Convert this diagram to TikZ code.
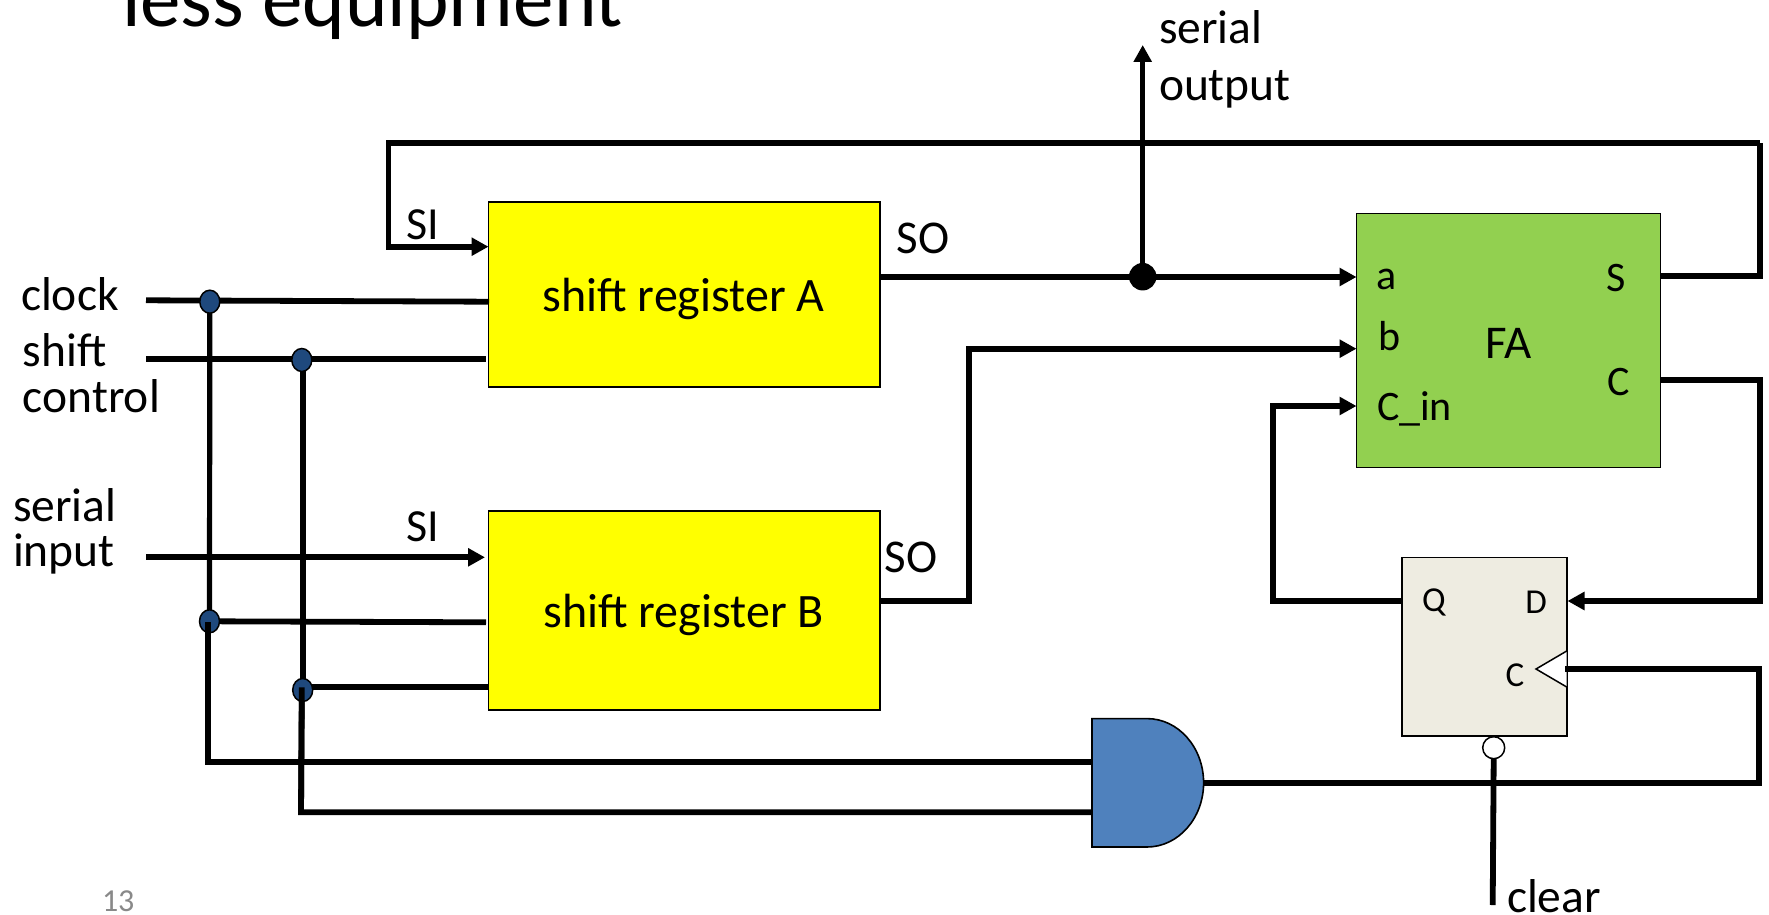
\documentclass[tikz,border=0pt]{standalone}
\usepackage{fontspec}
\setmainfont{Carlito}
\usetikzlibrary{arrows.meta,shapes.geometric}
\definecolor{regyellow}{HTML}{FFFF00}
\definecolor{fagreen}{HTML}{92D050}
\definecolor{fftan}{HTML}{EEECE1}
\definecolor{gateblue}{HTML}{4F81BD}
\definecolor{dotblue}{HTML}{1F497D}
\definecolor{pagegray}{HTML}{898989}
\newcommand{\fs}[1]{\fontsize{#1}{#1}\selectfont}
\tikzset{
  x=1pt,y=-1pt,
  box/.style={draw=black,line width=1.6pt,rectangle,inner sep=0pt,outer sep=0pt,anchor=north west},
  wire/.style={line width=5.8pt,draw=black,line join=miter},
  arrowwire/.style={wire,-{Triangle[length=17pt,width=17.5pt]}},
  joint/.style={ellipse,draw=black,line width=1.5pt,fill=dotblue,minimum width=20pt,minimum height=23pt,inner sep=0pt,outer sep=0pt},
  bigjoint/.style={ellipse,fill=black,minimum width=27.5pt,minimum height=27.5pt,inner sep=0pt,outer sep=0pt},
  lab/.style={inner sep=0pt,outer sep=0pt,anchor=base west,font=\fs{47.5}},
  ctr/.style={inner sep=0pt,outer sep=0pt,anchor=center},
}
\begin{document}
\begin{tikzpicture}
\useasboundingbox (0,0) rectangle (1769,915);
% title fragment and page number
\node[lab,font=\fs{81}] (title) at (122,26.7) {less equipment};
\node[lab,font=\fs{32},text=pagegray] (pageno) at (102,911.5) {13};

% blocks
\node[box,fill=regyellow,minimum width=391.5pt,minimum height=185pt] (sra) at (488.5,202) {};
\node[box,fill=regyellow,minimum width=391.5pt,minimum height=198.7pt] (srb) at (488.5,511) {};
\node[box,fill=fagreen,minimum width=304.1pt,minimum height=254pt] (fa) at (1356.5,213.3) {};
\node[box,fill=fftan,minimum width=165pt,minimum height=178.4pt] (ff) at (1401.7,557.3) {};

% free ends and bends
\coordinate (clkin) at (146,300.3);
\coordinate (clkA) at (489,301.7);
\coordinate (shin) at (146,359.3);
\coordinate (shA) at (486,359.3);
\coordinate (serin) at (146,557.3);
\coordinate (sitipB) at (485,557.3);
\coordinate (clkB) at (486,622.3);
\coordinate (shB) at (488.5,687.3);
\coordinate (sitipA) at (488.5,246.7);
\coordinate (topL) at (388.4,142.7);
\coordinate (topR) at (1760,142.7);
\coordinate (siL) at (388.4,246.7);
\coordinate (soA) at (880,277);
\coordinate (aTip) at (1356.5,277);
\coordinate (outTip) at (1142.7,45);
\coordinate (sOut) at (1660.6,276.3);
\coordinate (sR) at (1760,276.3);
\coordinate (soB) at (880,601);
\coordinate (bendB) at (969,601);
\coordinate (bendB2) at (969,348.7);
\coordinate (bTip) at (1356.5,348.7);
\coordinate (cinTip) at (1356.5,406);
\coordinate (cinL) at (1273,406);
\coordinate (qOut) at (1401.7,601);
\coordinate (qL) at (1273,601);
\coordinate (cOut) at (1660.6,380.3);
\coordinate (cR) at (1760,380.3);
\coordinate (dR) at (1760,601);
\coordinate (dTip) at (1567.5,601);
\coordinate (ckIn) at (1565,669);
\coordinate (ckR) at (1759,669);
\coordinate (andR) at (1759,783.3);
\coordinate (in1) at (1092,762.3);
\coordinate (in2) at (1092,812.3);
\coordinate (c1) at (208,762.3);
\coordinate (c2) at (301,812.3);
\coordinate (andOut) at (1203.6,783.3);
\coordinate (clrEnd) at (1492.7,905);
\coordinate (j1) at (209.8,301.7);
\coordinate (j2) at (301.8,360);
\coordinate (j3) at (209.5,621.3);
\coordinate (j4) at (302.7,690);
\coordinate (j5) at (1142.7,276.7);

% AND gate
\path[draw=black,line width=1.6pt,fill=gateblue] (1092,718.6) -- (1147,718.6)
  arc[start angle=-90,end angle=90,x radius=56.6pt,y radius=-64.2pt] -- (1092,847) -- cycle;

% wires
\draw[wire] (clkin) -- (clkA);
\draw[wire] (shin) -- (shA);
\draw[arrowwire] (serin) -- (sitipB);
\draw[wire] (j3) -- (clkB);
\draw[wire] (301.8,687.3) -- (shB);
\draw[wire,line width=5.2pt] (j1) -- (j3);
\draw[wire,line width=5.2pt] (303,360) -- (303,690);
\draw[wire] (in1) -- (c1) -- (208,640);
\draw[wire] (in2) -- (c2) -- (301.8,700);
\draw[arrowwire] (topR) -- (topL) -- (siL) -- (sitipA);
\draw[arrowwire] (soA) -- (aTip);
\draw[arrowwire,line width=5.2pt] (j5) -- (outTip);
\draw[wire] (sOut) -- (sR) -- (topR);
\draw[arrowwire] (soB) -- (bendB) -- (bendB2) -- (bTip);
\draw[arrowwire] (qOut) -- (qL) -- (cinL) -- (cinTip);
\draw[arrowwire] (cOut) -- (cR) -- (dR) -- (dTip);
\draw[wire] (ckIn) -- (ckR) -- (andR) -- (andOut);

% joints above the straight-through wires, lower branches stay on top
\node[joint] (n1) at (j1) {};
\node[joint] (n2) at (j2) {};
\node[joint] (n3) at (j3) {};
\node[joint] (n4) at (j4) {};
\node[bigjoint] (n5) at (j5) {};
\draw[wire] (c1) -- (208,622.3);
\draw[wire] (c2) -- (301.8,687.3);

% clock triangle and clear bubble
\path[draw=black,line width=1.5pt,fill=white] (1566.7,651) -- (1536,669) -- (1566.7,687);
\draw[wire] (ckIn) -- ++(10,0);
\node[circle,draw=black,line width=1.5pt,fill=white,minimum size=22pt,inner sep=0pt,outer sep=0pt] (bub) at (1493.7,747.7) {};
\draw[wire] (bub.south) -- (clrEnd);

% labels
\node[ctr,font=\fs{48}] (ta) at (683.6,299) {shift register A};
\node[ctr,font=\fs{48}] (tb) at (683.6,615) {shift register B};
\node[ctr,font=\fs{46}] (siA) at (423,224.5) {SI};
\node[ctr,font=\fs{46}] (siB) at (423,527) {SI};
\node[ctr,font=\fs{47}] (soa) at (923,238.5) {SO};
\node[ctr,font=\fs{47}] (sob) at (911,557.5) {SO};
\node[lab] (lclock) at (21,310) {clock};
\node[lab] (lshift) at (23,366) {shift};
\node[lab] (lctrl) at (23,412) {control};
\node[lab] (lser) at (13,521) {serial};
\node[lab] (linp) at (13,566) {input};
\node[lab] (lso1) at (1159,43.5) {serial};
\node[lab] (lso2) at (1159,101) {output};
\node[lab] (lclr) at (1507,912) {clear};
\node[lab,font=\fs{42}] (la) at (1376,289) {a};
\node[lab,font=\fs{42}] (lb) at (1378,350) {b};
\node[lab,font=\fs{42}] (lcin) at (1377,420) {C\_in};
\node[lab,font=\fs{42}] (ls) at (1606,291) {S};
\node[lab,font=\fs{42}] (lc) at (1607,395) {C};
\node[ctr,font=\fs{47}] (lfa) at (1509,343) {FA};
\node[ctr,font=\fs{35}] (lq) at (1434,602) {Q};
\node[ctr,font=\fs{35}] (ld) at (1536,602) {D};
\node[ctr,font=\fs{35}] (lck) at (1515,675) {C};
\end{tikzpicture}
\end{document}
